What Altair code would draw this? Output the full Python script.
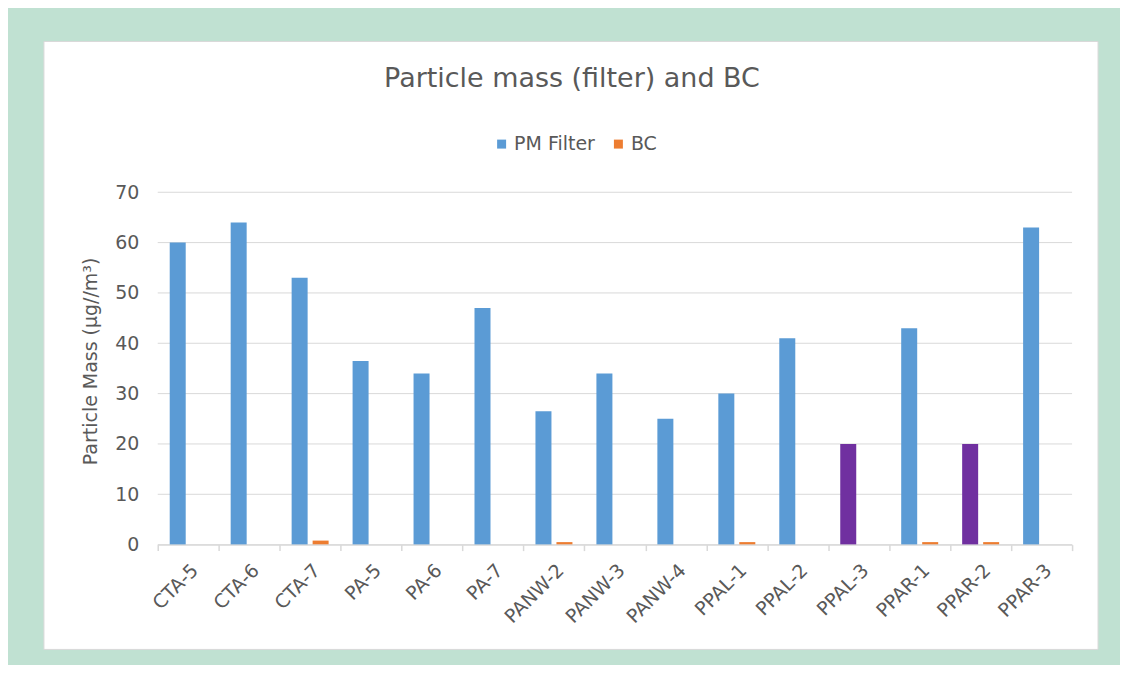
import altair as alt
import pandas as pd

samples = ["CTA-5", "CTA-6", "CTA-7", "PA-5", "PA-6", "PA-7", "PANW-2", "PANW-3",
           "PANW-4", "PPAL-1", "PPAL-2", "PPAL-3", "PPAR-1", "PPAR-2", "PPAR-3"]
pm_filter = [60, 64, 53, 36.5, 34, 47, 26.5, 34, 25, 30, 41, 20, 43, 20, 63]
bc = [0, 0, 0.8, 0, 0, 0, 0.5, 0, 0, 0.5, 0, 0, 0.5, 0.5, 0]
highlighted = ["PPAL-3", "PPAR-2"]
y_ticks = [0, 10, 20, 30, 40, 50, 60, 70]
series_names = ["PM Filter", "BC"]

rows = []
for s, p, b in zip(samples, pm_filter, bc):
    rows.append({"sample": s, "series": "PM Filter", "value": p,
                 "colorKey": "PM Filter (highlight)" if s in highlighted else "PM Filter"})
    rows.append({"sample": s, "series": "BC", "value": b, "colorKey": "BC"})
df = pd.DataFrame(rows)

TEXT = "#595959"
GRID = "#D9D9D9"
FONT = "DejaVu Sans"

# white chart box on the mint page (decorative frame)
box = alt.Chart(pd.DataFrame({"a": [0]})).mark_rect(
    fill="white", stroke="#D9D9D9", strokeWidth=1
).encode(
    x=alt.value(-114), x2=alt.value(942), y=alt.value(-151), y2=alt.value(458)
)

grid = alt.Chart(pd.DataFrame({"value": y_ticks})).mark_rule(
    color=GRID, strokeWidth=1
).encode(y=alt.Y("value:Q"))

bars = alt.Chart(df).mark_bar().encode(
    x=alt.X("sample:N", sort=samples,
            scale=alt.Scale(paddingInner=0, paddingOuter=0),
            axis=alt.Axis(title=None, labelAngle=-45, tickBand="extent",
                          tickSize=6, tickColor=GRID, tickWidth=1.5,
                          domainColor=GRID, domainWidth=1.5,
                          labelColor=TEXT, labelFontSize=19, labelFont=FONT,
                          labelPadding=10, zindex=1)),
    xOffset=alt.XOffset("series:N", sort=series_names,
                        scale=alt.Scale(paddingInner=0.238, paddingOuter=0.571)),
    y=alt.Y("value:Q", scale=alt.Scale(domain=[0, 70], nice=False),
            axis=alt.Axis(title="Particle Mass (µg//m³)", values=y_ticks,
                          grid=False, ticks=False, domain=False,
                          labelColor=TEXT, labelFontSize=19, labelFont=FONT,
                          labelPadding=19, titleColor=TEXT, titleFontSize=19,
                          titleFont=FONT, titleFontWeight="normal",
                          titlePadding=14, titleY=169, zindex=1)),
    color=alt.Color("colorKey:N",
                    scale=alt.Scale(domain=["PM Filter", "BC", "PM Filter (highlight)"],
                                    range=["#5B9BD5", "#ED7D31", "#7030A0"]),
                    legend=alt.Legend(values=series_names, title=None, orient="none",
                                      legendX=335, legendY=-58, direction="horizontal",
                                      symbolType="square", symbolSize=81,
                                      symbolStrokeWidth=0, labelFontSize=19,
                                      labelFont=FONT, labelColor=TEXT,
                                      labelOffset=3, columnPadding=14, padding=0)),
)

chart = alt.layer(box, grid, bars).properties(
    width=916, height=353,
    padding={"left": 35, "top": 32, "right": 21, "bottom": 14},
    background="#C0E1D2",
    title=alt.TitleParams("Particle mass (filter) and BC", font=FONT, fontSize=27,
                          fontWeight="normal", color=TEXT, frame="group",
                          anchor="middle", dx=-43, offset=-73, baseline="alphabetic"),
).configure_view(stroke=None)

chart.save("out.html", embed_options={"renderer": "svg", "actions": False})
